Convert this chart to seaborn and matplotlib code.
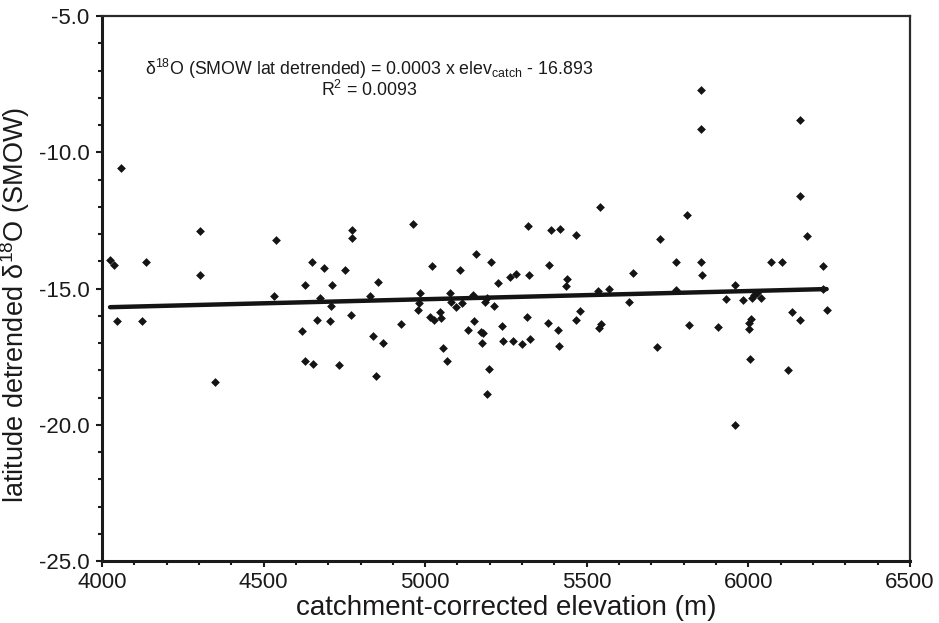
import numpy as np
import pandas as pd
import matplotlib
matplotlib.use("Agg")
import matplotlib.pyplot as plt
import seaborn as sns
from matplotlib.ticker import MultipleLocator, FormatStrFormatter

elevation = [4025, 4037, 4059, 4045, 4125, 4135, 4302, 4302, 4349, 4539,
             4532, 4618, 4627, 4628, 4650, 4652, 4665, 4674, 4687, 4705,
             4709, 4713, 4732, 4752, 4770, 4773, 4773, 4830, 4840, 4849,
             4855, 4868, 4925, 4962, 4977, 4981, 4985, 5015, 5022, 5026,
             5046, 5050, 5055, 5067, 5078, 5081, 5095, 5108, 5114, 5133,
             5148, 5152, 5156, 5173, 5177, 5180, 5184, 5191, 5192, 5198,
             5205, 5212, 5224, 5238, 5241, 5261, 5272, 5282, 5300, 5316,
             5318, 5320, 5325, 5380, 5384, 5388, 5411, 5413, 5417, 5435,
             5439, 5468, 5468, 5478, 5536, 5538, 5540, 5544, 5569, 5630,
             5643, 5718, 5725, 5775, 5776, 5810, 5815, 5852, 5852, 5853,
             5855, 5907, 5932, 5958, 5958, 5982, 6001, 6001, 6006, 6007,
             6010, 6018, 6026, 6038, 6069, 6104, 6124, 6134, 6160, 6160,
             6160, 6182, 6231, 6231, 6242]
d18o = [-13.95, -14.14, -10.59, -16.18, -16.18, -14.01, -12.89, -14.49, -18.44, -13.22,
        -15.26, -16.55, -17.66, -14.86, -14.04, -17.78, -16.14, -15.36, -14.23, -16.18,
        -15.63, -14.88, -17.81, -14.33, -15.97, -12.85, -13.16, -15.28, -16.73, -18.22,
        -14.77, -16.99, -16.29, -12.63, -15.79, -15.52, -15.18, -16.03, -14.17, -16.16,
        -15.87, -16.07, -17.17, -17.66, -15.15, -15.48, -15.67, -14.32, -15.53, -16.52,
        -15.24, -16.20, -13.73, -16.61, -17.00, -16.64, -15.48, -18.86, -15.36, -17.95,
        -14.03, -15.64, -14.79, -16.36, -16.92, -14.57, -16.92, -14.48, -17.02, -16.03,
        -12.69, -14.49, -16.86, -16.25, -14.15, -12.84, -16.51, -17.12, -12.82, -14.90,
        -14.65, -13.05, -16.16, -15.83, -15.09, -16.46, -12.02, -16.31, -15.02, -15.48,
        -14.43, -17.13, -13.18, -15.06, -14.02, -12.29, -16.35, -7.73, -9.16, -14.04,
        -14.52, -16.40, -15.39, -14.88, -20.00, -15.42, -16.28, -16.49, -17.60, -16.13,
        -15.36, -15.25, -15.18, -15.36, -14.02, -14.02, -17.99, -15.87, -8.83, -11.59,
        -16.16, -13.09, -14.16, -15.03, -15.79]

fit_slope = 0.0003
fit_intercept = -16.893
r_squared = 0.0093

x_ticks = [4000, 4500, 5000, 5500, 6000, 6500]
y_ticks = [-25.0, -20.0, -15.0, -10.0, -5.0]

sns.set_theme(style="white")
plt.rcParams['font.family'] = ['Liberation Sans', 'DejaVu Sans']
plt.rcParams['mathtext.fontset'] = 'custom'
plt.rcParams['mathtext.rm'] = 'Liberation Sans'
plt.rcParams['mathtext.it'] = 'Liberation Sans:italic'
plt.rcParams['mathtext.bf'] = 'Liberation Sans:bold'

df = pd.DataFrame({"elev": elevation, "d18o": d18o})

fig = plt.figure(figsize=(9.39, 6.23), dpi=100)
ax = fig.add_axes([0.1086, 0.0995, 0.8605, 0.8748])

sns.scatterplot(data=df, x="elev", y="d18o", marker="D", s=20, color="#141414",
                linewidth=0, ax=ax, zorder=3)

fx = np.array([min(elevation), max(elevation)])
fy = fit_slope * fx + fit_intercept
sns.lineplot(x=fx, y=fy, color="#141414", linewidth=3.2, ax=ax, zorder=4)

ax.set_xlim(4000, 6500)
ax.set_ylim(-25, -5)
ax.set_xticks(x_ticks)
ax.set_yticks(y_ticks)
ax.xaxis.set_minor_locator(MultipleLocator(100))
ax.yaxis.set_minor_locator(MultipleLocator(1))
ax.yaxis.set_major_formatter(FormatStrFormatter('%.1f'))
ax.tick_params(which='both', direction='out', colors='#1a1a1a', width=1.5,
               bottom=True, left=True, top=False, right=False)
ax.tick_params(which='major', length=4, labelsize=16, labelcolor='#1a1a1a')
ax.tick_params(axis='y', which='major', pad=5)
ax.tick_params(axis='x', which='major', pad=4)
ax.tick_params(which='minor', length=3)

for side in ['left', 'bottom']:
    ax.spines[side].set_linewidth(2.2)
    ax.spines[side].set_color('#1a1a1a')
for side in ['top', 'right']:
    ax.spines[side].set_linewidth(1.6)
    ax.spines[side].set_color('#2a2a2a')

ax.set_xlabel('catchment-corrected elevation (m)', fontsize=20, color='#1a1a1a', labelpad=1)
ax.set_ylabel('latitude detrended δ$^{18}$O (SMOW)', fontsize=19.5, color='#1a1a1a', labelpad=3)
ax.yaxis.set_label_coords(-0.086, 0.47)

ax.text(4825, -7.3,
        'δ$^{18}$O (SMOW lat detrended) = 0.0003 x elev$_{\\mathrm{catch}}$ - 16.893\nR$^{2}$ = 0.0093',
        ha='center', va='center', multialignment='center', linespacing=0.95,
        fontsize=12.8, color='#1a1a1a')

fig.savefig('out.png', dpi=100)
